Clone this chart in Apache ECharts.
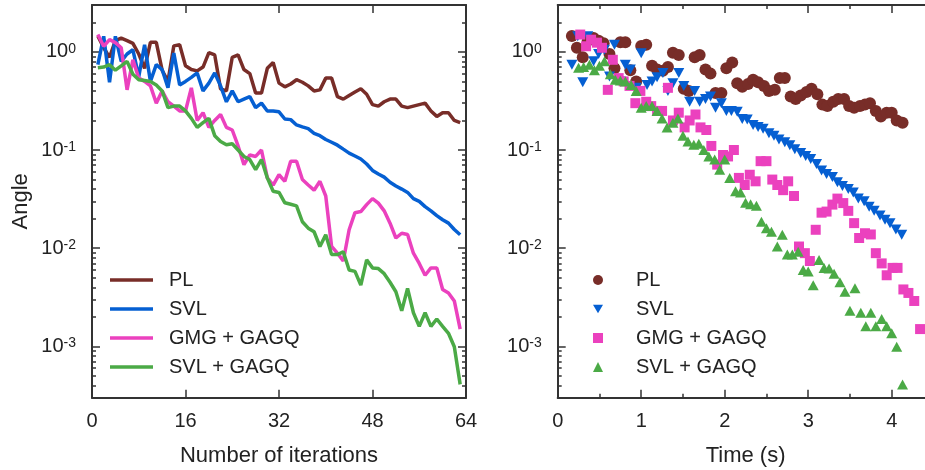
<!DOCTYPE html>
<html><head><meta charset="utf-8">
<script src="https://cdn.jsdelivr.net/npm/echarts@6/dist/echarts.min.js"></script>
<style>html,body{margin:0;padding:0;background:#fff}#c{width:925px;height:470px}</style>
</head><body><div id="c"></div>
<script>
const seriesNames = ['PL', 'SVL', 'GMG + GAGQ', 'SVL + GAGQ'];
const iterations = [1,2,3,4,5,6,7,8,9,10,11,12,13,14,15,16,17,18,19,20,21,22,23,24,25,26,27,28,29,30,31,32,33,34,35,36,37,38,39,40,41,42,43,44,45,46,47,48,49,50,51,52,53,54,55,56,57,58,59,60,61,62,63];
const plAngle = [1.45,1.10,0.88,1.30,1.38,1.30,1.22,0.95,0.68,1.25,1.25,0.65,0.50,1.15,1.18,0.72,0.66,0.64,0.70,0.98,0.93,0.42,0.40,0.88,0.93,0.66,0.60,0.38,0.38,0.68,0.78,0.48,0.44,0.47,0.52,0.49,0.45,0.40,0.41,0.54,0.54,0.35,0.33,0.36,0.39,0.42,0.37,0.29,0.28,0.31,0.33,0.33,0.28,0.27,0.28,0.29,0.30,0.25,0.22,0.24,0.24,0.20,0.19];
const svlAngle = [0.74,1.44,0.49,1.44,0.80,0.95,1.05,0.56,1.18,0.50,0.74,0.66,0.43,0.97,0.46,0.50,0.55,0.61,0.40,0.48,0.61,0.45,0.31,0.40,0.31,0.33,0.35,0.27,0.30,0.25,0.25,0.245,0.207,0.204,0.18,0.172,0.165,0.148,0.14,0.128,0.12,0.112,0.102,0.093,0.087,0.081,0.072,0.062,0.057,0.053,0.047,0.043,0.040,0.037,0.032,0.030,0.0265,0.024,0.0215,0.0195,0.018,0.0155,0.0137];
const gmgAngle = [1.50,1.14,1.33,1.24,1.10,0.41,0.83,0.54,0.50,0.45,0.30,0.40,0.31,0.28,0.25,0.25,0.43,0.20,0.24,0.17,0.20,0.23,0.17,0.16,0.11,0.071,0.089,0.086,0.10,0.052,0.044,0.056,0.048,0.077,0.077,0.050,0.044,0.039,0.048,0.034,0.0104,0.0089,0.0074,0.0154,0.023,0.0236,0.0278,0.032,0.0288,0.024,0.018,0.0127,0.0142,0.0138,0.0089,0.007,0.0053,0.0063,0.0063,0.0038,0.0035,0.0029,0.0015];
const svlGagqAngle = [0.69,0.70,0.74,0.65,0.72,0.80,0.59,0.52,0.51,0.50,0.46,0.40,0.27,0.28,0.28,0.25,0.21,0.17,0.19,0.21,0.14,0.122,0.113,0.116,0.10,0.086,0.080,0.063,0.080,0.052,0.038,0.037,0.029,0.028,0.027,0.0186,0.016,0.0147,0.0104,0.0137,0.0086,0.0086,0.0092,0.006,0.0058,0.0042,0.0076,0.0063,0.0062,0.0055,0.0045,0.0036,0.0023,0.0039,0.0022,0.0016,0.0022,0.0016,0.0019,0.0016,0.00136,0.00099,0.00041];
const plTime = [0.17,0.23,0.30,0.36,0.43,0.49,0.55,0.62,0.68,0.75,0.81,0.87,0.94,1.00,1.06,1.13,1.19,1.26,1.32,1.38,1.45,1.51,1.57,1.64,1.70,1.77,1.83,1.89,1.96,2.02,2.09,2.15,2.21,2.28,2.34,2.40,2.47,2.53,2.60,2.66,2.72,2.79,2.85,2.91,2.98,3.04,3.11,3.17,3.23,3.30,3.36,3.43,3.49,3.55,3.62,3.68,3.74,3.81,3.87,3.94,4.00,4.06,4.13];
const svlTime = [0.17,0.24,0.30,0.36,0.43,0.49,0.56,0.62,0.68,0.75,0.81,0.87,0.94,1.00,1.07,1.13,1.19,1.26,1.32,1.38,1.45,1.51,1.58,1.64,1.70,1.77,1.83,1.89,1.96,2.02,2.08,2.15,2.21,2.27,2.34,2.40,2.46,2.53,2.59,2.65,2.72,2.78,2.84,2.91,2.97,3.03,3.10,3.16,3.22,3.29,3.35,3.41,3.48,3.54,3.60,3.67,3.73,3.79,3.86,3.92,3.98,4.05,4.12];
const gmgTime = [0.27,0.34,0.40,0.47,0.53,0.60,0.66,0.73,0.79,0.86,0.93,0.99,1.06,1.12,1.19,1.25,1.32,1.38,1.45,1.52,1.58,1.65,1.71,1.78,1.84,1.91,1.98,2.04,2.11,2.17,2.24,2.30,2.37,2.43,2.50,2.57,2.63,2.70,2.76,2.83,2.89,2.96,3.02,3.09,3.16,3.22,3.29,3.35,3.42,3.48,3.55,3.61,3.68,3.75,3.81,3.88,3.94,4.01,4.07,4.14,4.20,4.27,4.34];
const svlGagqTime = [0.25,0.31,0.38,0.44,0.50,0.56,0.63,0.69,0.75,0.81,0.88,0.94,1.00,1.06,1.13,1.19,1.25,1.31,1.38,1.44,1.50,1.56,1.63,1.69,1.75,1.81,1.88,1.94,2.00,2.06,2.13,2.19,2.25,2.31,2.38,2.44,2.50,2.56,2.63,2.69,2.75,2.81,2.88,2.94,3.00,3.06,3.13,3.19,3.25,3.31,3.38,3.44,3.50,3.56,3.63,3.69,3.75,3.81,3.88,3.94,4.00,4.06,4.13];
const iterTicks = [0,16,32,48,64];
const timeTicks = [0,1,2,3,4];
const timeMinorTicks = [0.5,1.5,2.5,3.5];
const yMajorTicks = [0.001,0.01,0.1,1];
const yMinorTicks = [0.0004,0.0005,0.0006,0.0007,0.0008,0.0009,0.002,0.003,0.004,0.005,0.006,0.007,0.008,0.009,0.02,0.03,0.04,0.05,0.06,0.07,0.08,0.09,0.2,0.3,0.4,0.5,0.6,0.7,0.8,0.9,2];

const FONT = "'Liberation Sans', Arial, Helvetica, sans-serif";
const TXT = '#222';
const AX = '#333';
const colors = ['#782d28', '#055fd2', '#eb41be', '#4baa46'];
const angles = [plAngle, svlAngle, gmgAngle, svlGagqAngle];
const times = [plTime, svlTime, gmgTime, svlGagqTime];
const Y_MIN = 0.0003, Y_MAX = 3;

function pairs(xs, ys) { const n = Math.min(xs.length, ys.length); const out = []; for (let i = 0; i < n; i++) out.push([xs[i], ys[i]]); return out; }

function xAx(grid, pos, min, max, ticks, len, opts) {
  opts = opts || {};
  return Object.assign({
    type: 'value', gridIndex: grid, position: pos, min: min, max: max,
    axisLine: { show: opts.line !== false, onZero: false, lineStyle: { color: AX, width: 2 } },
    axisTick: { show: true, inside: true, length: len, customValues: ticks, lineStyle: { color: AX, width: 1.5 } },
    axisLabel: opts.labels ? { show: true, customValues: ticks, fontSize: 20, margin: 14, color: TXT, fontFamily: FONT } : { show: false },
    splitLine: { show: false }
  }, opts.extra || {});
}
function yAx(grid, pos, ticks, len, opts) {
  opts = opts || {};
  return Object.assign({
    type: 'log', logBase: 10, gridIndex: grid, position: pos, min: Y_MIN, max: Y_MAX,
    axisLine: { show: opts.line !== false, onZero: false, lineStyle: { color: AX, width: 2 } },
    axisTick: { show: true, inside: true, length: len, customValues: ticks, lineStyle: { color: AX, width: 1.5 } },
    axisLabel: opts.labels ? {
      show: true, customValues: ticks, margin: 16, color: TXT, fontFamily: FONT,
      formatter: v => '{b|10}{s|' + Math.round(Math.log10(v)) + '}',
      rich: { b: { fontSize: 20, color: TXT, fontFamily: FONT }, s: { fontSize: 14, color: TXT, fontFamily: FONT, verticalAlign: 'top' } }
    } : { show: false },
    splitLine: { show: false }, minorTick: { show: false }
  }, opts.extra || {});
}

const nameStyleX = { fontSize: 22, color: TXT, fontFamily: FONT };

const xAxis = [
  xAx(0, 'bottom', 0, 64, iterTicks, 8, { labels: true, extra: { name: 'Number of iterations', nameLocation: 'middle', nameGap: 47, nameTextStyle: nameStyleX } }),
  xAx(0, 'top', 0, 64, iterTicks, 8, {}),
  xAx(1, 'bottom', 0, 4.5, timeTicks, 8, { labels: true, extra: { name: 'Time (s)', nameLocation: 'middle', nameGap: 47, nameTextStyle: nameStyleX } }),
  xAx(1, 'top', 0, 4.5, timeTicks, 8, {}),
  xAx(1, 'bottom', 0, 4.5, timeMinorTicks, 4, { line: false }),
  xAx(1, 'top', 0, 4.5, timeMinorTicks, 4, { line: false })
];
const yAxis = [
  yAx(0, 'left', yMajorTicks, 8, { labels: true, extra: { name: 'Angle', nameLocation: 'middle', nameGap: 60, nameTextStyle: nameStyleX } }),
  yAx(0, 'left', yMinorTicks, 4, { line: false }),
  yAx(0, 'right', yMajorTicks, 8, {}),
  yAx(0, 'right', yMinorTicks, 4, { line: false }),
  yAx(1, 'left', yMajorTicks, 8, { labels: true }),
  yAx(1, 'left', yMinorTicks, 4, { line: false }),
  yAx(1, 'right', yMajorTicks, 8, {}),
  yAx(1, 'right', yMinorTicks, 4, { line: false })
];

const series = [];
seriesNames.forEach((nm, i) => {
  series.push({
    name: nm, type: 'line', xAxisIndex: 0, yAxisIndex: 0,
    data: pairs(iterations, angles[i]), showSymbol: false, symbol: 'none',
    lineStyle: { color: colors[i], width: 3.5 }, itemStyle: { color: colors[i] }, z: 2 + i
  });
});
const scatterSymbols = ['circle', 'path://M0,0L10,0L5,8.66Z', 'rect', 'triangle'];
const scatterSizes = [12, [11, 10], 10, [11, 10]];
seriesNames.forEach((nm, i) => {
  series.push({
    name: nm + ' (t)', type: 'scatter', xAxisIndex: 2, yAxisIndex: 4,
    data: pairs(times[i], angles[i]), symbol: scatterSymbols[i], symbolSize: scatterSizes[i],
    itemStyle: { color: colors[i], opacity: 1 }, z: 2 + i
  });
});

const option = {
  animation: false,
  backgroundColor: '#fff',
  grid: [
    { left: 92, top: 5, width: 374, height: 392.7, containLabel: false, outerBoundsMode: 'none' },
    { left: 557.7, top: 5, width: 375.75, height: 392.7, containLabel: false, outerBoundsMode: 'none' }
  ],
  xAxis: xAxis,
  yAxis: yAxis,
  legend: [
    {
      data: seriesNames.map((n, i) => ({ name: n, icon: 'rect', itemStyle: { color: colors[i] } })),
      orient: 'vertical', left: 105, top: 265, itemWidth: 43, itemHeight: 3.5, itemGap: 9,
      selectedMode: false, textStyle: { fontSize: 20, color: TXT, fontFamily: FONT, padding: [0, 0, 0, 11] }
    },
    {
      data: seriesNames.map(n => n + ' (t)'), orient: 'vertical', left: 588, top: 265, itemWidth: 10, itemHeight: 10, itemGap: 9,
      selectedMode: false, formatter: n => n.replace(' (t)', ''),
      textStyle: { fontSize: 20, color: TXT, fontFamily: FONT, padding: [0, 0, 0, 28] }
    }
  ],
  series: series
};
const chart = echarts.init(document.getElementById('c'), null, { renderer: 'canvas' });
chart.setOption(option);
</script></body></html>
